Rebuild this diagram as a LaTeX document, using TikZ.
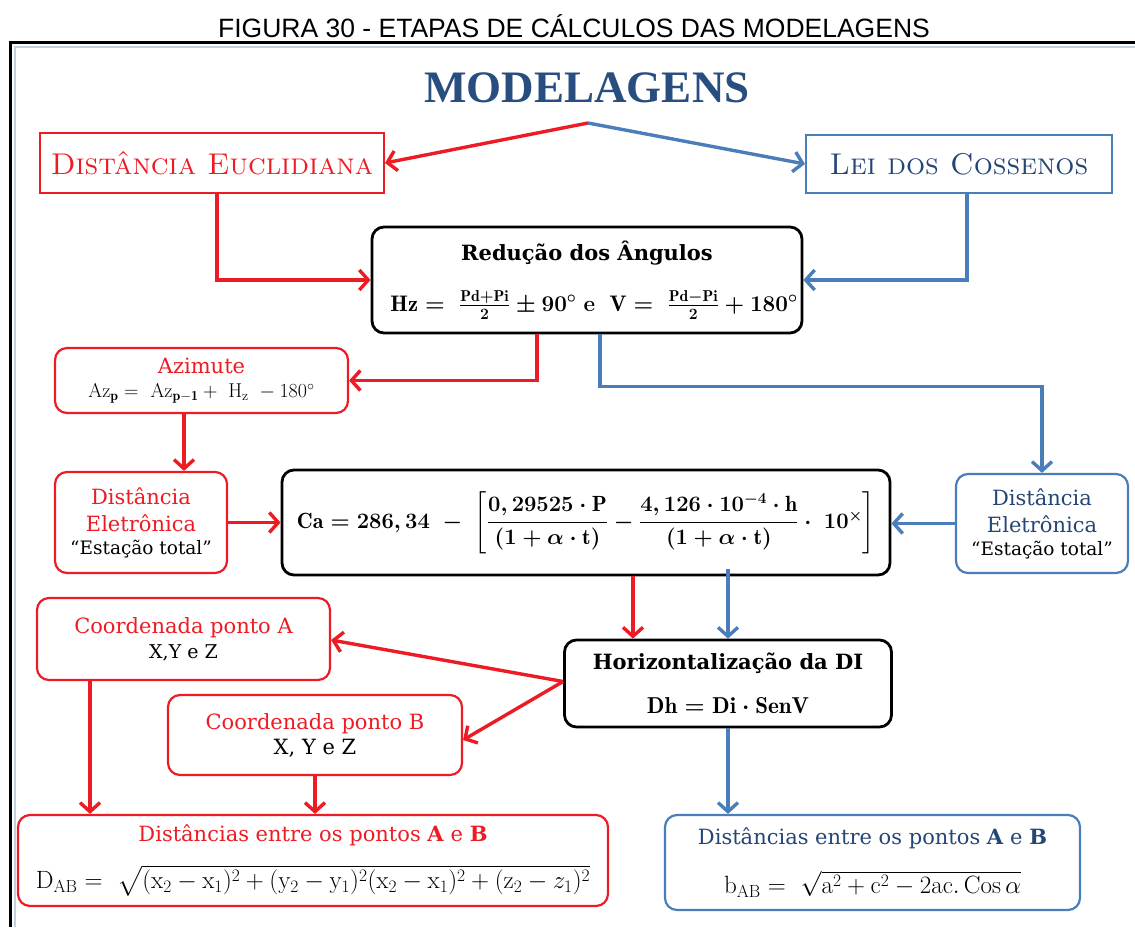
\RequirePackage{fix-cm}
\documentclass[tikz,border=0pt]{standalone}
\usepackage{amsmath}
\usepackage{fontspec}
\usetikzlibrary{arrows.meta}
\newfontfamily\capfont{Liberation Sans}
\newfontfamily\headfont{Liberation Serif}
\newfontfamily\bodyfont{DejaVu Serif}
\definecolor{rd}{RGB}{237,28,36}
\definecolor{bl}{RGB}{74,126,187}
\definecolor{dbl}{RGB}{36,70,118}
\definecolor{hd}{RGB}{40,78,128}
\definecolor{frameinner}{RGB}{196,208,224}
\newcommand\bodysize{\bodyfont\fontsize{21pt}{27pt}\selectfont}
\newcommand\smallbody{\fontsize{18.5pt}{23pt}\selectfont}
% formulas
\newcommand\hzform{{\fontsize{22.5pt}{26pt}\selectfont\boldmath$\mathrm{Hz} =\ \frac{\mathrm{Pd+Pi}}{2} \pm 90^\circ$ {\rmfamily\bfseries e}\ \ $\mathrm{V} =\ \frac{\mathrm{Pd-Pi}}{2} + 180^\circ$}}
\newcommand\azform{{\fontsize{20pt}{24pt}\selectfont$\mathrm{Az}_{\mathbf{p}} =\ \mathrm{Az}_{\mathbf{p-1}} +\ \mathrm{H_z}\ - 180^\circ$}}
\newcommand\caform{{\fontsize{22pt}{26pt}\selectfont\boldmath
  $\mathrm{Ca} = 286,34\ -\ \left[\dfrac{0,29525\cdot\mathrm{P}}{(1+\alpha\cdot\mathrm{t})}-\dfrac{4,126\cdot10^{-4}\cdot\mathrm{h}}{(1+\alpha\cdot\mathrm{t})}\cdot\ 10^{\times}\right]$}}
\newcommand\dhform{{\fontsize{23pt}{27pt}\selectfont\boldmath$\mathrm{Dh} = \mathrm{Di}\cdot\mathrm{SenV}$}}
\newcommand\dabform{{\fontsize{25pt}{29pt}\selectfont$\mathrm{D_{AB}} =\ \sqrt{(\mathrm{x}_2-\mathrm{x}_1)^2+(\mathrm{y}_2-\mathrm{y}_1)^2(\mathrm{x}_2-\mathrm{x}_1)^2+(\mathrm{z}_2-z_1)^2}$}}
\newcommand\babform{{\fontsize{25pt}{29pt}\selectfont$\mathrm{b_{AB}} =\ \sqrt{\mathrm{a^2+c^2-2ac.\,Cos}\,\alpha}$}}
\begin{document}
\begin{tikzpicture}[x=1pt,y=-1pt,
  box/.style={draw, line width=2.2pt, rounded corners=12pt, align=center, inner sep=0pt, font=\bodysize},
  redbox/.style={box, draw=rd, text=rd},
  bluebox/.style={box, draw=bl, text=dbl},
  blackbox/.style={box, draw=black, line width=2.8pt, text=black},
  headbox/.style={draw, line width=2pt, align=center, inner sep=0pt, font=\fontsize{30pt}{36pt}\selectfont},
  conn/.style={line width=3.4pt, -{Straight Barb[length=9pt,width=20pt]}},
  redarrow/.style={conn, draw=rd},
  bluearrow/.style={conn, draw=bl}]
\useasboundingbox (0,0) rectangle (1135,927);
\fill[white] (0,0) rectangle (1135,927);

% frame
\draw[frameinner, line width=2.5pt] (15,927) -- (15,47) -- (1135,47);
\draw[black, line width=3pt] (10,927) -- (10,42.5) -- (1135,42.5);

% caption and heading
\node (cap) at (574,26) {\capfont\fontsize{26.5pt}{30pt}\selectfont FIGURA 30 - ETAPAS DE CÁLCULOS DAS MODELAGENS};
\node[text=hd] (title) at (587,88) {\headfont\bfseries\fontsize{45pt}{50pt}\selectfont MODELAGENS};
\coordinate (split) at (588,123);

% first row
\node[headbox, draw=rd, text=rd, minimum width=344pt, minimum height=60pt] (euc) at (212,163) {\textsc{Distância Euclidiana}};
\node[headbox, draw=bl, text=dbl, minimum width=306pt, minimum height=58pt] (lei) at (959,164) {\textsc{Lei dos Cossenos}};

% angle reduction
\node[blackbox, minimum width=430pt, minimum height=106pt] (red) at (587,280)
  {\bfseries Redução dos Ângulos\\[24pt]\hspace*{14pt}\hzform};

% azimuth
\node[redbox, minimum width=293pt, minimum height=65pt] (az) at (201.5,380.5)
  {Azimute\\[-3pt]{\color{black}\azform}};

% electronic distance, both sides
\node[redbox, minimum width=172pt, minimum height=101pt] (deL) at (141,522.5)
  {Distância\\Eletrônica\\[-4pt]{\color{black}\smallbody “Estação total”}};
\node[bluebox, minimum width=172pt, minimum height=99pt] (deR) at (1042,523.5)
  {Distância\\Eletrônica\\[-4pt]{\color{black}\smallbody “Estação total”}};

% corrected distance
\node[blackbox, minimum width=608pt, minimum height=105pt] (ca) at (586,522.5) {\caform};

% horizontal distance
\node[blackbox, minimum width=327pt, minimum height=87pt] (hor) at (728,683.5)
  {\bfseries Horizontalização da DI\\[17pt]\dhform};

% point coordinates
\node[redbox, minimum width=293pt, minimum height=82pt] (cA) at (183.5,639)
  {Coordenada ponto A\\[-2pt]{\color{black}\fontsize{19pt}{23pt}\selectfont X,Y e Z}};
\node[redbox, minimum width=294pt, minimum height=80pt] (cB) at (315,735)
  {Coordenada ponto B\\[-2pt]{\color{black}\fontsize{21pt}{25pt}\selectfont X, Y e Z}};

% distances between A and B
\node[redbox, minimum width=590pt, minimum height=91pt] (dAB) at (313,860.5)
  {Distâncias entre os pontos \textbf{A} e \textbf{B}\\[18pt]{\color{black}\dabform}};
\node[bluebox, minimum width=415pt, minimum height=95pt] (bAB) at (872.5,862.5)
  {Distâncias entre os pontos \textbf{A} e \textbf{B}\\[21pt]{\color{black}\babform}};

% connectors
\draw[redarrow] (split) -- (euc.east);
\draw[bluearrow] (split) -- (lei.west);
\draw[redarrow] ([xshift=5pt]euc.south) |- (red.west);
\draw[bluearrow] ([xshift=8pt]lei.south) |- (red.east);
\draw[redarrow] ([xshift=-50pt]red.south) |- (az.east);
\draw[bluearrow] ([xshift=13pt]red.south) -- ++(0,52) -| (deR.north);
\draw[redarrow] ([xshift=-17.5pt]az.south) -- ([xshift=43pt]deL.north);
\draw[redarrow] (deL.east) -- (ca.west);
\draw[bluearrow] (deR.west) -- (deR.west -| ca.east);
\draw[redarrow] ([xshift=47pt]ca.south) -- ([xshift=47pt]ca.south |- hor.north);
\draw[bluearrow] ([xshift=142pt,yshift=7pt]ca.south) -- ([xshift=142pt]ca.south |- hor.north);
\draw[redarrow] ([yshift=2pt]hor.west) -- ([yshift=-1pt]cA.east);
\draw[redarrow] ([yshift=2pt]hor.west) -- ([yshift=-5pt]cB.east);
\draw[redarrow] ([xshift=-93.5pt]cA.south) -- ([xshift=-93.5pt]cA.south |- dAB.north);
\draw[redarrow] (cB.south) -- (cB.south |- dAB.north);
\draw[bluearrow] (hor.south) -- (hor.south |- bAB.north);
\end{tikzpicture}
\end{document}
